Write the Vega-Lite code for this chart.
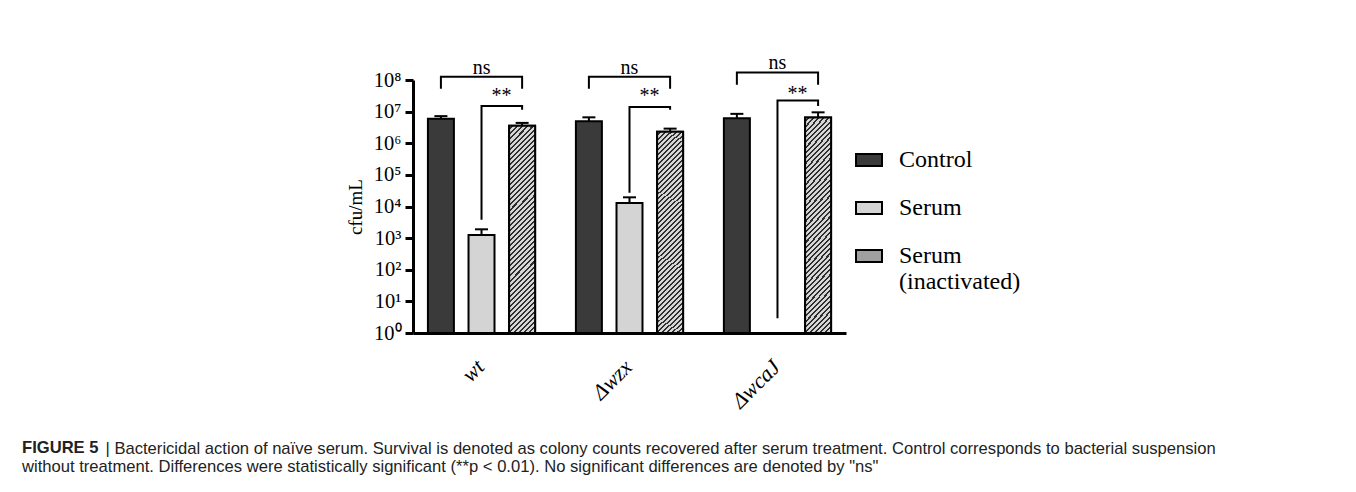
{
  "$schema": "https://vega.github.io/schema/vega-lite/v6.json",
  "width": 433,
  "height": 253,
  "autosize": {"type": "none"},
  "padding": {"left": 413, "top": 80, "right": 510, "bottom": 159},
  "background": "white",
  "config": {"view": {"stroke": null}, "font": "Liberation Serif"},
  "title": {
    "text": "FIGURE 5",
    "subtitle": "without treatment. Differences were statistically significant (**p < 0.01). No significant differences are denoted by \"ns\"",
    "orient": "bottom",
    "anchor": "start",
    "frame": "group",
    "dx": -391,
    "offset": -17,
    "font": "Liberation Sans",
    "fontSize": 16.6,
    "fontWeight": "bold",
    "color": "#222222",
    "subtitleFont": "Liberation Sans",
    "subtitleFontSize": 16.6,
    "subtitleFontWeight": "normal",
    "subtitleColor": "#222222",
    "subtitlePadding": 3
  },
  "datasets": {
    "bars": [
      {"group": "wt", "treatment": "Control", "value": 6000000, "upper": 7200000},
      {"group": "wt", "treatment": "Serum", "value": 1250, "upper": 1900},
      {"group": "wt", "treatment": "Serum (inactivated)", "value": 3600000, "upper": 4400000},
      {"group": "Δwzx", "treatment": "Control", "value": 5000000, "upper": 6600000},
      {"group": "Δwzx", "treatment": "Serum", "value": 13000, "upper": 19500},
      {"group": "Δwzx", "treatment": "Serum (inactivated)", "value": 2300000, "upper": 2900000},
      {"group": "ΔwcaJ", "treatment": "Control", "value": 6200000, "upper": 8500000},
      {"group": "ΔwcaJ", "treatment": "Serum (inactivated)", "value": 6500000, "upper": 9500000}
    ],
    "brackets": [
      {"id": "wt-ns", "group": "wt", "treatment": "Control", "level": 52500000, "ord": 0},
      {"id": "wt-ns", "group": "wt", "treatment": "Control", "level": 126000000, "ord": 1},
      {"id": "wt-ns", "group": "wt", "treatment": "Serum (inactivated)", "level": 126000000, "ord": 2},
      {"id": "wt-ns", "group": "wt", "treatment": "Serum (inactivated)", "level": 52500000, "ord": 3},
      {"id": "wt-st", "group": "wt", "treatment": "Serum", "level": 3800, "ord": 0},
      {"id": "wt-st", "group": "wt", "treatment": "Serum", "level": 15100000, "ord": 1},
      {"id": "wt-st", "group": "wt", "treatment": "Serum (inactivated)", "level": 15100000, "ord": 2},
      {"id": "wt-st", "group": "wt", "treatment": "Serum (inactivated)", "level": 11500000, "ord": 3},
      {"id": "wzx-ns", "group": "Δwzx", "treatment": "Control", "level": 52500000, "ord": 0},
      {"id": "wzx-ns", "group": "Δwzx", "treatment": "Control", "level": 126000000, "ord": 1},
      {"id": "wzx-ns", "group": "Δwzx", "treatment": "Serum (inactivated)", "level": 126000000, "ord": 2},
      {"id": "wzx-ns", "group": "Δwzx", "treatment": "Serum (inactivated)", "level": 52500000, "ord": 3},
      {"id": "wzx-st", "group": "Δwzx", "treatment": "Serum", "level": 27000, "ord": 0},
      {"id": "wzx-st", "group": "Δwzx", "treatment": "Serum", "level": 14100000, "ord": 1},
      {"id": "wzx-st", "group": "Δwzx", "treatment": "Serum (inactivated)", "level": 14100000, "ord": 2},
      {"id": "wzx-st", "group": "Δwzx", "treatment": "Serum (inactivated)", "level": 11500000, "ord": 3},
      {"id": "wcaJ-ns", "group": "ΔwcaJ", "treatment": "Control", "level": 71000000, "ord": 0},
      {"id": "wcaJ-ns", "group": "ΔwcaJ", "treatment": "Control", "level": 174000000, "ord": 1},
      {"id": "wcaJ-ns", "group": "ΔwcaJ", "treatment": "Serum (inactivated)", "level": 174000000, "ord": 2},
      {"id": "wcaJ-ns", "group": "ΔwcaJ", "treatment": "Serum (inactivated)", "level": 71000000, "ord": 3},
      {"id": "wcaJ-st", "group": "ΔwcaJ", "treatment": "Serum", "level": 2.95, "ord": 0},
      {"id": "wcaJ-st", "group": "ΔwcaJ", "treatment": "Serum", "level": 22400000, "ord": 1},
      {"id": "wcaJ-st", "group": "ΔwcaJ", "treatment": "Serum (inactivated)", "level": 22400000, "ord": 2},
      {"id": "wcaJ-st", "group": "ΔwcaJ", "treatment": "Serum (inactivated)", "level": 15100000, "ord": 3}
    ],
    "labels": [
      {"group": "wt", "treatment": "Serum", "label": "ns", "level": 241000000},
      {"group": "Δwzx", "treatment": "Serum", "label": "ns", "level": 241000000},
      {"group": "ΔwcaJ", "treatment": "Serum", "label": "ns", "level": 355000000},
      {"group": "wt", "treatment": "Serum", "label": "**", "level": 32000000},
      {"group": "Δwzx", "treatment": "Serum", "label": "**", "level": 32000000},
      {"group": "ΔwcaJ", "treatment": "Serum", "label": "**", "level": 36000000}
    ]
  },
  "encoding": {
    "x": {
      "field": "group",
      "type": "nominal",
      "sort": ["wt", "Δwzx", "ΔwcaJ"],
      "scale": {"domain": ["wt", "Δwzx", "ΔwcaJ"], "paddingInner": 0.1, "paddingOuter": 0.013},
      "axis": {
        "title": "| Bactericidal action of naïve serum. Survival is denoted as colony counts recovered after serum treatment. Control corresponds to bacterial suspension",
        "titleX": -308,
        "titleY": 115,
        "titleAlign": "left",
        "titleBaseline": "middle",
        "titleAngle": 0,
        "titleFont": "Liberation Sans",
        "titleFontSize": 16.6,
        "titleFontWeight": "normal",
        "titleColor": "#222222",
        "ticks": false,
        "domainColor": "black",
        "domainWidth": 3,
        "labelAngle": -45,
        "labelAlign": "right",
        "labelBaseline": "top",
        "labelFont": "Liberation Serif",
        "labelFontStyle": "italic",
        "labelFontSize": 22,
        "labelColor": "black",
        "labelPadding": 23,
        "labelOffset": -8
      }
    },
    "xOffset": {
      "field": "treatment",
      "type": "nominal",
      "sort": ["Control", "Serum", "Serum (inactivated)"],
      "scale": {"domain": ["Control", "Serum", "Serum (inactivated)"], "paddingInner": 0.36, "paddingOuter": 0.32}
    }
  },
  "layer": [
    {
      "data": {"name": "bars"},
      "mark": {"type": "bar", "stroke": "black", "strokeWidth": 2},
      "encoding": {
        "y": {
          "field": "value",
          "type": "quantitative",
          "title": "cfu/mL",
          "scale": {"type": "log", "domain": [1, 100000000], "nice": false},
          "axis": {
            "values": [1, 10, 100, 1000, 10000, 100000, 1000000, 10000000, 100000000],
            "labelExpr": "'10' + ['⁰','¹','²','³','⁴','⁵','⁶','⁷','⁸'][round(log(datum.value)/LN10)]",
            "title": "cfu/mL",
            "grid": false,
            "domainColor": "black",
            "domainWidth": 3,
            "tickColor": "black",
            "tickWidth": 3,
            "tickSize": 8,
            "labelFont": "Liberation Serif",
            "labelFontSize": 20.5,
            "labelColor": "black",
            "labelPadding": 4,
            "labelFlush": false,
            "labelOverlap": false,
            "titleFont": "Liberation Serif",
            "titleFontSize": 19,
            "titleFontWeight": "normal",
            "titleColor": "black",
            "titlePadding": 8
          }
        },
        "y2": {"datum": 1},
        "color": {
          "field": "treatment",
          "type": "nominal",
          "scale": {"domain": ["Control", "Serum", "Serum (inactivated)"], "range": ["#3a3a3a", "#d4d4d4", "#a0a0a0"]},
          "legend": {
            "title": null,
            "orient": "none",
            "legendX": 442,
            "legendY": 66,
            "symbolType": "M-1,-0.46H1V0.46H-1Z",
            "symbolSize": 676,
            "symbolStrokeColor": "black",
            "symbolStrokeWidth": 2,
            "labelFont": "Liberation Serif",
            "labelFontSize": 24,
            "labelColor": "black",
            "labelOffset": 16,
            "labelLimit": 0,
            "rowPadding": 22,
            "labelExpr": "datum.label == 'Serum (inactivated)' ? ['Serum', '(inactivated)'] : datum.label",
            "encode": {
              "symbols": {
                "update": {
                  "stroke": {"value": "black"},
                  "strokeWidth": {"value": 2}
                }
              }
            }
          }
        }
      }
    },
    {
      "data": {"name": "bars"},
      "transform": [{"filter": "datum.treatment === 'Serum (inactivated)'"}],
      "mark": {
        "type": "bar",
        "stroke": "black",
        "strokeWidth": 2,
        "fill": {"gradient": "linear", "x1": 0, "y1": 0, "x2": 0.1397, "y2": 1.108, "stops": [
          {"offset": 0, "color": "#d6d6d6"}, {"offset": 0.013, "color": "#d6d6d6"}, {"offset": 0.013, "color": "#2e2e2e"}, {"offset": 0.0217, "color": "#2e2e2e"},
          {"offset": 0.0217, "color": "#d6d6d6"}, {"offset": 0.0348, "color": "#d6d6d6"}, {"offset": 0.0348, "color": "#2e2e2e"}, {"offset": 0.0435, "color": "#2e2e2e"},
          {"offset": 0.0435, "color": "#d6d6d6"}, {"offset": 0.0565, "color": "#d6d6d6"}, {"offset": 0.0565, "color": "#2e2e2e"}, {"offset": 0.0652, "color": "#2e2e2e"},
          {"offset": 0.0652, "color": "#d6d6d6"}, {"offset": 0.0783, "color": "#d6d6d6"}, {"offset": 0.0783, "color": "#2e2e2e"}, {"offset": 0.087, "color": "#2e2e2e"},
          {"offset": 0.087, "color": "#d6d6d6"}, {"offset": 0.1, "color": "#d6d6d6"}, {"offset": 0.1, "color": "#2e2e2e"}, {"offset": 0.1087, "color": "#2e2e2e"},
          {"offset": 0.1087, "color": "#d6d6d6"}, {"offset": 0.1217, "color": "#d6d6d6"}, {"offset": 0.1217, "color": "#2e2e2e"}, {"offset": 0.1304, "color": "#2e2e2e"},
          {"offset": 0.1304, "color": "#d6d6d6"}, {"offset": 0.1435, "color": "#d6d6d6"}, {"offset": 0.1435, "color": "#2e2e2e"}, {"offset": 0.1522, "color": "#2e2e2e"},
          {"offset": 0.1522, "color": "#d6d6d6"}, {"offset": 0.1652, "color": "#d6d6d6"}, {"offset": 0.1652, "color": "#2e2e2e"}, {"offset": 0.1739, "color": "#2e2e2e"},
          {"offset": 0.1739, "color": "#d6d6d6"}, {"offset": 0.187, "color": "#d6d6d6"}, {"offset": 0.187, "color": "#2e2e2e"}, {"offset": 0.1957, "color": "#2e2e2e"},
          {"offset": 0.1957, "color": "#d6d6d6"}, {"offset": 0.2087, "color": "#d6d6d6"}, {"offset": 0.2087, "color": "#2e2e2e"}, {"offset": 0.2174, "color": "#2e2e2e"},
          {"offset": 0.2174, "color": "#d6d6d6"}, {"offset": 0.2304, "color": "#d6d6d6"}, {"offset": 0.2304, "color": "#2e2e2e"}, {"offset": 0.2391, "color": "#2e2e2e"},
          {"offset": 0.2391, "color": "#d6d6d6"}, {"offset": 0.2522, "color": "#d6d6d6"}, {"offset": 0.2522, "color": "#2e2e2e"}, {"offset": 0.2609, "color": "#2e2e2e"},
          {"offset": 0.2609, "color": "#d6d6d6"}, {"offset": 0.2739, "color": "#d6d6d6"}, {"offset": 0.2739, "color": "#2e2e2e"}, {"offset": 0.2826, "color": "#2e2e2e"},
          {"offset": 0.2826, "color": "#d6d6d6"}, {"offset": 0.2957, "color": "#d6d6d6"}, {"offset": 0.2957, "color": "#2e2e2e"}, {"offset": 0.3043, "color": "#2e2e2e"},
          {"offset": 0.3043, "color": "#d6d6d6"}, {"offset": 0.3174, "color": "#d6d6d6"}, {"offset": 0.3174, "color": "#2e2e2e"}, {"offset": 0.3261, "color": "#2e2e2e"},
          {"offset": 0.3261, "color": "#d6d6d6"}, {"offset": 0.3391, "color": "#d6d6d6"}, {"offset": 0.3391, "color": "#2e2e2e"}, {"offset": 0.3478, "color": "#2e2e2e"},
          {"offset": 0.3478, "color": "#d6d6d6"}, {"offset": 0.3609, "color": "#d6d6d6"}, {"offset": 0.3609, "color": "#2e2e2e"}, {"offset": 0.3696, "color": "#2e2e2e"},
          {"offset": 0.3696, "color": "#d6d6d6"}, {"offset": 0.3826, "color": "#d6d6d6"}, {"offset": 0.3826, "color": "#2e2e2e"}, {"offset": 0.3913, "color": "#2e2e2e"},
          {"offset": 0.3913, "color": "#d6d6d6"}, {"offset": 0.4043, "color": "#d6d6d6"}, {"offset": 0.4043, "color": "#2e2e2e"}, {"offset": 0.413, "color": "#2e2e2e"},
          {"offset": 0.413, "color": "#d6d6d6"}, {"offset": 0.4261, "color": "#d6d6d6"}, {"offset": 0.4261, "color": "#2e2e2e"}, {"offset": 0.4348, "color": "#2e2e2e"},
          {"offset": 0.4348, "color": "#d6d6d6"}, {"offset": 0.4478, "color": "#d6d6d6"}, {"offset": 0.4478, "color": "#2e2e2e"}, {"offset": 0.4565, "color": "#2e2e2e"},
          {"offset": 0.4565, "color": "#d6d6d6"}, {"offset": 0.4696, "color": "#d6d6d6"}, {"offset": 0.4696, "color": "#2e2e2e"}, {"offset": 0.4783, "color": "#2e2e2e"},
          {"offset": 0.4783, "color": "#d6d6d6"}, {"offset": 0.4913, "color": "#d6d6d6"}, {"offset": 0.4913, "color": "#2e2e2e"}, {"offset": 0.5, "color": "#2e2e2e"},
          {"offset": 0.5, "color": "#d6d6d6"}, {"offset": 0.513, "color": "#d6d6d6"}, {"offset": 0.513, "color": "#2e2e2e"}, {"offset": 0.5217, "color": "#2e2e2e"},
          {"offset": 0.5217, "color": "#d6d6d6"}, {"offset": 0.5348, "color": "#d6d6d6"}, {"offset": 0.5348, "color": "#2e2e2e"}, {"offset": 0.5435, "color": "#2e2e2e"},
          {"offset": 0.5435, "color": "#d6d6d6"}, {"offset": 0.5565, "color": "#d6d6d6"}, {"offset": 0.5565, "color": "#2e2e2e"}, {"offset": 0.5652, "color": "#2e2e2e"},
          {"offset": 0.5652, "color": "#d6d6d6"}, {"offset": 0.5783, "color": "#d6d6d6"}, {"offset": 0.5783, "color": "#2e2e2e"}, {"offset": 0.587, "color": "#2e2e2e"},
          {"offset": 0.587, "color": "#d6d6d6"}, {"offset": 0.6, "color": "#d6d6d6"}, {"offset": 0.6, "color": "#2e2e2e"}, {"offset": 0.6087, "color": "#2e2e2e"},
          {"offset": 0.6087, "color": "#d6d6d6"}, {"offset": 0.6217, "color": "#d6d6d6"}, {"offset": 0.6217, "color": "#2e2e2e"}, {"offset": 0.6304, "color": "#2e2e2e"},
          {"offset": 0.6304, "color": "#d6d6d6"}, {"offset": 0.6435, "color": "#d6d6d6"}, {"offset": 0.6435, "color": "#2e2e2e"}, {"offset": 0.6522, "color": "#2e2e2e"},
          {"offset": 0.6522, "color": "#d6d6d6"}, {"offset": 0.6652, "color": "#d6d6d6"}, {"offset": 0.6652, "color": "#2e2e2e"}, {"offset": 0.6739, "color": "#2e2e2e"},
          {"offset": 0.6739, "color": "#d6d6d6"}, {"offset": 0.687, "color": "#d6d6d6"}, {"offset": 0.687, "color": "#2e2e2e"}, {"offset": 0.6957, "color": "#2e2e2e"},
          {"offset": 0.6957, "color": "#d6d6d6"}, {"offset": 0.7087, "color": "#d6d6d6"}, {"offset": 0.7087, "color": "#2e2e2e"}, {"offset": 0.7174, "color": "#2e2e2e"},
          {"offset": 0.7174, "color": "#d6d6d6"}, {"offset": 0.7304, "color": "#d6d6d6"}, {"offset": 0.7304, "color": "#2e2e2e"}, {"offset": 0.7391, "color": "#2e2e2e"},
          {"offset": 0.7391, "color": "#d6d6d6"}, {"offset": 0.7522, "color": "#d6d6d6"}, {"offset": 0.7522, "color": "#2e2e2e"}, {"offset": 0.7609, "color": "#2e2e2e"},
          {"offset": 0.7609, "color": "#d6d6d6"}, {"offset": 0.7739, "color": "#d6d6d6"}, {"offset": 0.7739, "color": "#2e2e2e"}, {"offset": 0.7826, "color": "#2e2e2e"},
          {"offset": 0.7826, "color": "#d6d6d6"}, {"offset": 0.7957, "color": "#d6d6d6"}, {"offset": 0.7957, "color": "#2e2e2e"}, {"offset": 0.8043, "color": "#2e2e2e"},
          {"offset": 0.8043, "color": "#d6d6d6"}, {"offset": 0.8174, "color": "#d6d6d6"}, {"offset": 0.8174, "color": "#2e2e2e"}, {"offset": 0.8261, "color": "#2e2e2e"},
          {"offset": 0.8261, "color": "#d6d6d6"}, {"offset": 0.8391, "color": "#d6d6d6"}, {"offset": 0.8391, "color": "#2e2e2e"}, {"offset": 0.8478, "color": "#2e2e2e"},
          {"offset": 0.8478, "color": "#d6d6d6"}, {"offset": 0.8609, "color": "#d6d6d6"}, {"offset": 0.8609, "color": "#2e2e2e"}, {"offset": 0.8696, "color": "#2e2e2e"},
          {"offset": 0.8696, "color": "#d6d6d6"}, {"offset": 0.8826, "color": "#d6d6d6"}, {"offset": 0.8826, "color": "#2e2e2e"}, {"offset": 0.8913, "color": "#2e2e2e"},
          {"offset": 0.8913, "color": "#d6d6d6"}, {"offset": 0.9043, "color": "#d6d6d6"}, {"offset": 0.9043, "color": "#2e2e2e"}, {"offset": 0.913, "color": "#2e2e2e"},
          {"offset": 0.913, "color": "#d6d6d6"}, {"offset": 0.9261, "color": "#d6d6d6"}, {"offset": 0.9261, "color": "#2e2e2e"}, {"offset": 0.9348, "color": "#2e2e2e"},
          {"offset": 0.9348, "color": "#d6d6d6"}, {"offset": 0.9478, "color": "#d6d6d6"}, {"offset": 0.9478, "color": "#2e2e2e"}, {"offset": 0.9565, "color": "#2e2e2e"},
          {"offset": 0.9565, "color": "#d6d6d6"}, {"offset": 0.9696, "color": "#d6d6d6"}, {"offset": 0.9696, "color": "#2e2e2e"}, {"offset": 0.9783, "color": "#2e2e2e"},
          {"offset": 0.9783, "color": "#d6d6d6"}, {"offset": 0.9913, "color": "#d6d6d6"}, {"offset": 0.9913, "color": "#2e2e2e"}, {"offset": 1, "color": "#2e2e2e"}
        ]}
      },
      "encoding": {
        "y": {"field": "value", "type": "quantitative", "title": "cfu/mL"},
        "y2": {"datum": 1}
      }
    },
    {
      "data": {"name": "bars"},
      "mark": {"type": "rule", "color": "black", "strokeWidth": 2},
      "encoding": {
        "y": {"field": "value", "type": "quantitative", "title": "cfu/mL"},
        "y2": {"field": "upper"}
      }
    },
    {
      "data": {"name": "bars"},
      "mark": {"type": "tick", "color": "black", "thickness": 2, "size": 13, "opacity": 1},
      "encoding": {
        "y": {"field": "upper", "type": "quantitative", "title": "cfu/mL"}
      }
    },
    {
      "data": {"name": "brackets"},
      "mark": {"type": "line", "color": "black", "strokeWidth": 2, "strokeJoin": "miter"},
      "encoding": {
        "y": {"field": "level", "type": "quantitative", "title": "cfu/mL"},
        "detail": {"field": "id"},
        "order": {"field": "ord", "type": "quantitative"}
      }
    },
    {
      "data": {"name": "labels"},
      "transform": [{"filter": "datum.label === 'ns'"}],
      "mark": {"type": "text", "color": "black", "font": "Liberation Serif", "fontSize": 20, "baseline": "middle", "align": "center"},
      "encoding": {
        "y": {"field": "level", "type": "quantitative", "title": "cfu/mL"},
        "text": {"field": "label"}
      }
    },
    {
      "data": {"name": "labels"},
      "transform": [{"filter": "datum.label === '**'"}],
      "mark": {"type": "text", "color": "black", "font": "Liberation Serif", "fontSize": 20, "baseline": "middle", "align": "center", "dx": 20},
      "encoding": {
        "y": {"field": "level", "type": "quantitative", "title": "cfu/mL"},
        "text": {"field": "label"}
      }
    }
  ]
}
